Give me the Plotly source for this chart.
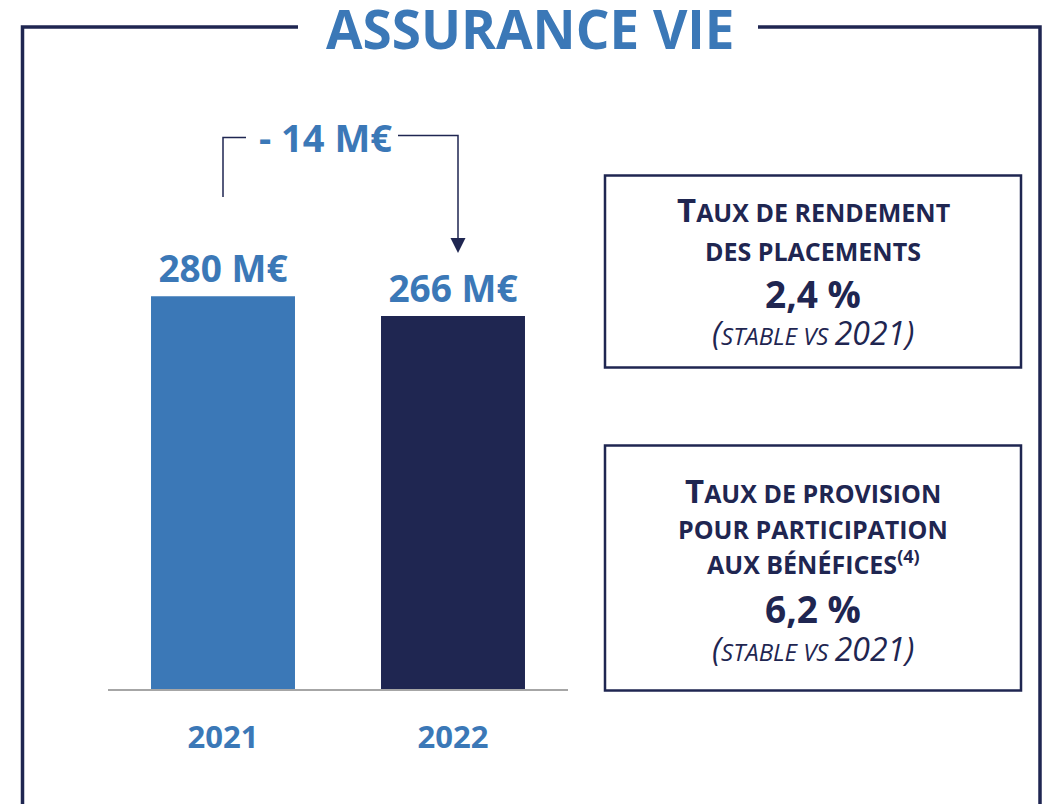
import plotly.graph_objects as go

# data
years = ["2021", "2022"]
resultat = [280, 266]          # M€
taux_rendement = "2,4 %"
taux_provision = "6,2 %"
comparaison = "2021"

NAVY = "#1f2651"
BLUE = "#3b78b7"
GREY = "#a6a6a6"
FONT = "Open Sans"

W, H = 1051, 804
PL, PR, PT, PB = 108, 568, 128, 689   # plot area in pixels


def px(x):
    return (x - PL) / (PR - PL)


def py(y):
    return (PB - y) / (PB - PT)


fig = go.Figure()

fig.add_trace(go.Bar(
    x=years,
    y=resultat,
    marker=dict(color=[BLUE, NAVY], line=dict(width=0)),
    texttemplate="%{y} M€",
    textposition="outside",
    outsidetextfont=dict(family=FONT, size=37, color=BLUE, weight="bold"),
    cliponaxis=False,
    hoverinfo="skip",
))

shapes = []
annotations = []

# outer frame with a gap for the title
frame = dict(type="path", xref="paper", yref="paper",
             line=dict(color=NAVY, width=3.5))
shapes.append(dict(frame, path=f"M {px(298)} {py(27)} L {px(22.5)} {py(27)} L {px(22.5)} {py(830)}"))
shapes.append(dict(frame, path=f"M {px(758)} {py(27)} L {px(1040)} {py(27)} L {px(1040)} {py(830)}"))

annotations.append(dict(
    text="ASSURANCE VIE", x=px(530), y=py(28), xref="paper", yref="paper",
    showarrow=False, xanchor="center", yanchor="middle",
    font=dict(family=FONT, size=53, color=BLUE, weight="bold"),
))

# bracket + arrow showing the variation
diff = resultat[1] - resultat[0]
bracket = dict(type="path", xref="paper", yref="paper",
               line=dict(color=NAVY, width=1.5))
shapes.append(dict(bracket, path=f"M {px(223)} {py(197)} L {px(223)} {py(137.5)} L {px(246)} {py(137.5)}"))
shapes.append(dict(bracket, path=f"M {px(398)} {py(135.5)} L {px(458)} {py(135.5)} L {px(458)} {py(240)}"))
shapes.append(dict(type="path", xref="paper", yref="paper", line=dict(width=0),
                   fillcolor=NAVY,
                   path=f"M {px(450.5)} {py(238)} L {px(465.5)} {py(238)} L {px(458)} {py(253)} Z"))
sign = "-" if diff < 0 else "+"
annotations.append(dict(
    text=f"{sign} {abs(diff)} M€", x=px(325), y=py(136.5), xref="paper", yref="paper",
    showarrow=False, xanchor="center", yanchor="middle",
    font=dict(family=FONT, size=38, color=BLUE, weight="bold"),
))

# info boxes
box = dict(type="rect", xref="paper", yref="paper", line=dict(color=NAVY, width=2.5),
           fillcolor="rgba(0,0,0,0)")
shapes.append(dict(box, x0=px(605), x1=px(1021), y0=py(175.5), y1=py(367.5)))
shapes.append(dict(box, x0=px(605), x1=px(1021), y0=py(445.5), y1=py(690.5)))


def sc(word_first, rest):
    return f"<span style='font-size:33px'>{word_first}</span>{rest}"


stable = (f"<span style='font-size:32px'>(</span>STABLE VS "
          f"<span style='font-size:32px'>{comparaison})</span>")

box_lines = [
    (sc("T", "AUX DE RENDEMENT"), 210, 25, "bold", "normal"),
    ("DES PLACEMENTS", 250.5, 25, "bold", "normal"),
    (taux_rendement, 293, 37, "bold", "normal"),
    (stable, 332, 24, "normal", "italic"),
    (sc("T", "AUX DE PROVISION"), 490, 25, "bold", "normal"),
    ("POUR PARTICIPATION", 528.5, 25, "bold", "normal"),
    ("AUX BÉNÉFICES<sup><span style='font-size:18px'>(4)</span></sup>", 562.5, 25, "bold", "normal"),
    (taux_provision, 608, 37, "bold", "normal"),
    (stable, 648.5, 24, "normal", "italic"),
]
for txt, yc, size, weight, style in box_lines:
    annotations.append(dict(
        text=txt, x=px(813), y=py(yc), xref="paper", yref="paper",
        showarrow=False, xanchor="center", yanchor="middle",
        font=dict(family=FONT, size=size, color=NAVY, weight=weight, style=style),
    ))

fig.update_layout(
    width=W, height=H,
    margin=dict(l=PL, r=W - PR, t=PT, b=H - PB, pad=0),
    paper_bgcolor="white", plot_bgcolor="white",
    showlegend=False,
    bargap=0.374,
    shapes=shapes,
    annotations=annotations,
    hovermode=False,
    font=dict(family=FONT, color=NAVY),
)

fig.update_xaxes(
    type="category", range=[-0.5, 1.5],
    showline=True, linecolor=GREY, linewidth=2,
    showgrid=False, zeroline=False, ticks="",
    tickfont=dict(family=FONT, size=31, color=BLUE, weight="bold"),
    ticklabelstandoff=20,
)
fig.update_yaxes(visible=False, range=[0, 400], fixedrange=True)

# the page body has a default 8px margin: drop it so the figure sits at the corner
fig.write_html("out.html", config={"displayModeBar": False},
               post_script="document.body.style.margin='0';")
